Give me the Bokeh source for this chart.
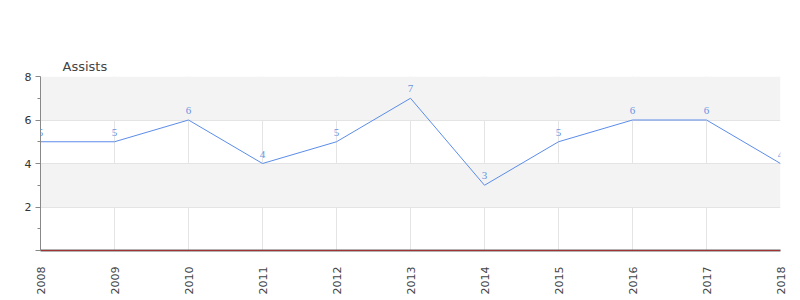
import math
from bokeh.plotting import figure
from bokeh.models import Range1d, FixedTicker, ColumnDataSource, LabelSet, Span
from bokeh.embed import file_html
from bokeh.resources import INLINE

years = [2008, 2009, 2010, 2011, 2012, 2013, 2014, 2015, 2016, 2017, 2018]
assists = [5, 5, 6, 4, 5, 7, 3, 5, 6, 6, 4]
y_ticks = [0, 2, 4, 6, 8]
y_minor = [1, 3, 5, 7]
title_text = "Assists"

FONT = "DejaVu Sans"
LINE = "#5b8ce8"

p = figure(width=800, height=300, output_backend="svg", toolbar_location=None,
           x_range=Range1d(years[0], years[-1]), y_range=Range1d(0, 8),
           min_border_left=40, min_border_right=20, min_border_top=76, min_border_bottom=50,
           title=title_text)
p.outline_line_color = None
p.background_fill_color = "white"

p.title.align = "left"
p.title.offset = 22
p.title.text_font = FONT
p.title.text_font_size = "13px"
p.title.text_font_style = "normal"
p.title.text_color = "#444444"
p.title.standoff = 5

src = ColumnDataSource(dict(x=years, y=assists, t=[str(v) for v in assists]))
p.line("x", "y", source=src, line_color=LINE, line_width=1)

labels = LabelSet(x="x", y="y", text="t", source=src, text_align="center", text_baseline="bottom",
                  y_offset=6, text_font=FONT, text_font_size="11px", text_color="#6a93e2")
p.add_layout(labels)

# axes
p.xaxis.ticker = FixedTicker(ticks=years)
p.xaxis.major_label_orientation = math.pi / 2
p.xaxis.major_tick_line_color = None
p.xaxis.minor_tick_line_color = None
p.xaxis.axis_line_color = "#666666"
p.xaxis.axis_line_width = 2
p.xaxis.major_label_text_font = FONT
p.xaxis.major_label_text_font_size = "11px"
p.xaxis.major_label_text_color = "#444444"
p.xaxis.major_label_standoff = 10

p.yaxis.ticker = FixedTicker(ticks=y_ticks, minor_ticks=y_minor)
p.yaxis.major_label_overrides = {0: ""}
p.yaxis.axis_line_color = "#888888"
p.yaxis.major_tick_line_color = "#888888"
p.yaxis.minor_tick_line_color = "#888888"
p.yaxis.major_tick_out = 5
p.yaxis.major_tick_in = 0
p.yaxis.minor_tick_out = 3
p.yaxis.minor_tick_in = 0
p.yaxis.major_label_text_font = FONT
p.yaxis.major_label_text_font_size = "11px"
p.yaxis.major_label_text_color = "#333333"
p.yaxis.major_label_standoff = 4

p.xgrid.grid_line_color = "#e4e4e4"
p.ygrid.grid_line_color = "#e4e4e4"
p.ygrid.band_fill_color = "#f3f3f3"
p.ygrid.band_fill_alpha = 1.0

zero = Span(location=0, dimension="width", line_color="#dd0000", line_width=1, level="overlay")
p.add_layout(zero)

open("out.html", "w").write(file_html(p, INLINE))
